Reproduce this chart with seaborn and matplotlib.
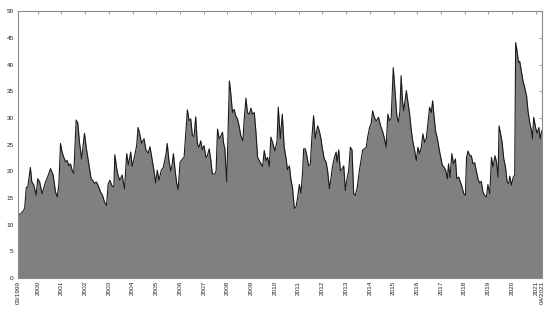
import matplotlib
matplotlib.use('Agg')
import matplotlib.pyplot as plt
import seaborn as sns
import pandas as pd

# time in decimal years
years = [
    1999.17, 1999.28, 1999.41, 1999.45, 1999.52, 1999.58, 1999.69, 1999.75, 1999.83, 1999.93,
    2000.00, 2000.08, 2000.18, 2000.33, 2000.42, 2000.54, 2000.65, 2000.75, 2000.82, 2000.89,
    2000.96, 2001.03, 2001.10, 2001.17, 2001.24, 2001.31, 2001.38, 2001.45, 2001.52, 2001.62,
    2001.69, 2001.76, 2001.85, 2001.97, 2002.06, 2002.15, 2002.25, 2002.33, 2002.40, 2002.47,
    2002.53, 2002.65, 2002.73, 2002.82, 2002.90, 2002.97, 2003.04, 2003.14, 2003.21, 2003.25,
    2003.33, 2003.38, 2003.46, 2003.56, 2003.66, 2003.75, 2003.82, 2003.92, 2003.98, 2004.09,
    2004.17, 2004.23, 2004.30, 2004.38, 2004.48, 2004.56, 2004.66, 2004.73, 2004.80, 2004.90,
    2004.97, 2005.04, 2005.11, 2005.21, 2005.29, 2005.40, 2005.46, 2005.53, 2005.61, 2005.67,
    2005.72, 2005.79, 2005.86, 2005.92, 2006.00, 2006.10, 2006.17, 2006.24, 2006.31, 2006.38,
    2006.45, 2006.52, 2006.59, 2006.66, 2006.73, 2006.80, 2006.87, 2006.94, 2007.01, 2007.09,
    2007.15, 2007.23, 2007.30, 2007.36, 2007.47, 2007.52, 2007.58, 2007.65, 2007.72, 2007.79,
    2007.83, 2007.89, 2007.93, 2007.97, 2008.03, 2008.08, 2008.14, 2008.21, 2008.28, 2008.35,
    2008.42, 2008.49, 2008.56, 2008.65, 2008.70, 2008.78, 2008.84, 2008.92, 2008.99, 2009.05,
    2009.13, 2009.20, 2009.27, 2009.34, 2009.41, 2009.48, 2009.55, 2009.62, 2009.69, 2009.76,
    2009.83, 2009.90, 2010.00, 2010.09, 2010.14, 2010.23, 2010.31, 2010.39, 2010.47, 2010.53,
    2010.61, 2010.68, 2010.74, 2010.82, 2010.89, 2010.96, 2011.03, 2011.10, 2011.17, 2011.21,
    2011.28, 2011.35, 2011.42, 2011.49, 2011.56, 2011.63, 2011.70, 2011.80, 2011.87, 2011.94,
    2012.01, 2012.08, 2012.16, 2012.22, 2012.30, 2012.37, 2012.43, 2012.51, 2012.58, 2012.62,
    2012.69, 2012.76, 2012.83, 2012.90, 2012.97, 2013.04, 2013.11, 2013.18, 2013.25, 2013.32,
    2013.39, 2013.47, 2013.56, 2013.63, 2013.70, 2013.77, 2013.85, 2013.91, 2013.99, 2014.06,
    2014.12, 2014.20, 2014.27, 2014.37, 2014.45, 2014.55, 2014.62, 2014.69, 2014.76, 2014.83,
    2014.90, 2014.99, 2015.07, 2015.14, 2015.21, 2015.27, 2015.32, 2015.38, 2015.43, 2015.54,
    2015.60, 2015.68, 2015.75, 2015.81, 2015.89, 2015.96, 2016.03, 2016.10, 2016.17, 2016.24,
    2016.31, 2016.38, 2016.45, 2016.52, 2016.59, 2016.65, 2016.70, 2016.77, 2016.85, 2016.91,
    2016.99, 2017.06, 2017.12, 2017.20, 2017.27, 2017.32, 2017.38, 2017.46, 2017.53, 2017.61,
    2017.67, 2017.75, 2017.82, 2017.88, 2017.96, 2018.03, 2018.08, 2018.14, 2018.21, 2018.28,
    2018.35, 2018.42, 2018.49, 2018.56, 2018.63, 2018.70, 2018.77, 2018.84, 2018.92, 2018.98,
    2019.06, 2019.13, 2019.19, 2019.28, 2019.34, 2019.41, 2019.45, 2019.51, 2019.57, 2019.65,
    2019.72, 2019.79, 2019.86, 2019.90, 2019.97, 2020.04, 2020.11, 2020.15, 2020.21, 2020.27,
    2020.32, 2020.39, 2020.46, 2020.53, 2020.61, 2020.67, 2020.75, 2020.82, 2020.86, 2020.91,
    2020.99, 2021.05, 2021.13, 2021.18, 2021.25,
]
values = [
    11.9, 12.0, 12.7, 13.2, 17.0, 17.0, 20.7, 18.0, 17.5, 15.5,
    18.6, 18.0, 15.8, 18.0, 19.0, 20.5, 19.3, 16.1, 15.2, 17.5,
    25.2, 23.5, 22.6, 21.8, 22.0, 21.0, 21.4, 20.2, 19.6, 29.6,
    29.0, 25.4, 22.3, 27.1, 24.0, 21.4, 18.6, 18.2, 17.7, 18.0,
    17.5, 16.1, 15.5, 14.2, 13.6, 17.6, 18.3, 17.2, 17.1, 23.1,
    20.5, 19.3, 18.3, 19.3, 16.7, 23.3, 21.2, 23.6, 20.9, 23.0,
    24.8, 28.2, 27.0, 25.2, 26.1, 24.0, 23.4, 24.6, 22.8, 20.1,
    17.8, 20.2, 18.3, 20.2, 20.7, 23.0, 25.2, 22.0, 20.0, 21.4,
    23.3, 20.2, 17.7, 16.6, 21.7, 22.3, 22.6, 27.0, 31.5, 29.5,
    29.8, 26.7, 26.5, 30.2, 25.1, 24.5, 25.7, 24.0, 24.8, 22.6,
    22.9, 24.2, 22.0, 19.5, 19.5, 20.1, 27.9, 26.1, 26.6, 27.3,
    25.4, 24.2, 20.9, 18.0, 28.2, 36.9, 34.5, 31.0, 31.6, 30.4,
    29.8, 28.5, 26.7, 25.7, 29.5, 33.7, 31.0, 30.7, 31.8, 30.7,
    31.0, 27.3, 22.6, 22.0, 21.4, 20.9, 23.9, 22.0, 22.6, 20.9,
    26.4, 25.4, 23.8, 25.7, 32.0, 26.1, 30.7, 24.5, 22.4, 20.3,
    21.0, 18.3, 17.0, 13.0, 13.3, 15.2, 17.5, 15.9, 20.1, 24.2,
    24.2, 22.8, 21.0, 21.2, 26.4, 30.4, 26.1, 28.5, 27.6, 26.1,
    24.0, 22.3, 21.7, 20.1, 16.7, 18.9, 21.0, 22.6, 23.6, 21.7,
    24.0, 20.1, 20.4, 21.0, 16.4, 18.6, 20.1, 24.5, 24.0, 15.8,
    15.5, 17.0, 20.1, 22.0, 24.0, 24.2, 24.5, 26.4, 28.2, 29.0,
    31.3, 30.0, 29.4, 30.1, 28.6, 27.3, 26.1, 24.5, 30.7, 29.5,
    29.8, 39.4, 34.5, 30.4, 29.2, 31.3, 37.9, 33.2, 31.3, 35.1,
    33.2, 30.7, 27.6, 25.7, 23.9, 22.0, 24.5, 23.3, 24.5, 27.0,
    25.4, 26.1, 28.9, 32.0, 31.0, 33.2, 30.7, 27.6, 26.1, 24.5,
    22.6, 21.1, 20.8, 20.2, 18.6, 21.4, 18.8, 23.3, 21.4, 22.3,
    18.6, 18.9, 18.0, 17.2, 15.8, 15.5, 22.6, 23.8, 23.0, 22.9,
    21.4, 21.6, 20.1, 18.6, 17.8, 18.1, 16.1, 15.5, 15.2, 17.5,
    15.8, 22.6, 20.8, 22.9, 21.8, 18.9, 28.5, 27.1, 25.7, 22.3,
    20.8, 18.0, 17.7, 19.1, 17.4, 18.8, 19.3, 44.1, 42.5, 40.4,
    40.6, 38.8, 36.9, 35.7, 34.1, 31.3, 28.9, 27.6, 26.1, 30.1,
    28.2, 27.1, 28.2, 26.1, 27.6,
]
tick_years = [1999.167] + list(range(2000, 2022)) + [2021.25]
tick_labels = ['03/1999'] + [str(y) for y in range(2000, 2022)] + ['04/2021']
y_ticks = [0, 5, 10, 15, 20, 25, 30, 35, 40, 45, 50]

df = pd.DataFrame({'year': years, 'value': values})

sns.set_style('white')
plt.rcParams['font.family'] = ['Liberation Sans', 'DejaVu Sans']

fig = plt.figure(figsize=(5.5, 3.09), dpi=100)
ax = fig.add_axes([0.0327, 0.1003, 0.9523, 0.8637])

ax.fill_between(df['year'], df['value'], 0, color='#808080', linewidth=0)
sns.lineplot(data=df, x='year', y='value', ax=ax, color='#1a1a1a', linewidth=0.8)

ax.set_xlim(1999.167, 2021.25)
ax.set_ylim(0, 50)
ax.set_xticks(tick_years)
ax.set_xticklabels(tick_labels, rotation=90, fontsize=4.6)
ax.set_yticks(y_ticks)
ax.set_yticklabels([str(v) for v in y_ticks], fontsize=4.6)
ax.set_xlabel('')
ax.set_ylabel('')

ax.tick_params(axis='both', direction='in', length=2.5, width=0.5, color='#777777',
               top=True, right=True, labelcolor='#222222')
ax.tick_params(axis='x', pad=2)
ax.tick_params(axis='y', pad=3)
for s in ax.spines.values():
    s.set_color('#8a8a8a')
    s.set_linewidth(0.8)

fig.savefig('out.png', dpi=100)
